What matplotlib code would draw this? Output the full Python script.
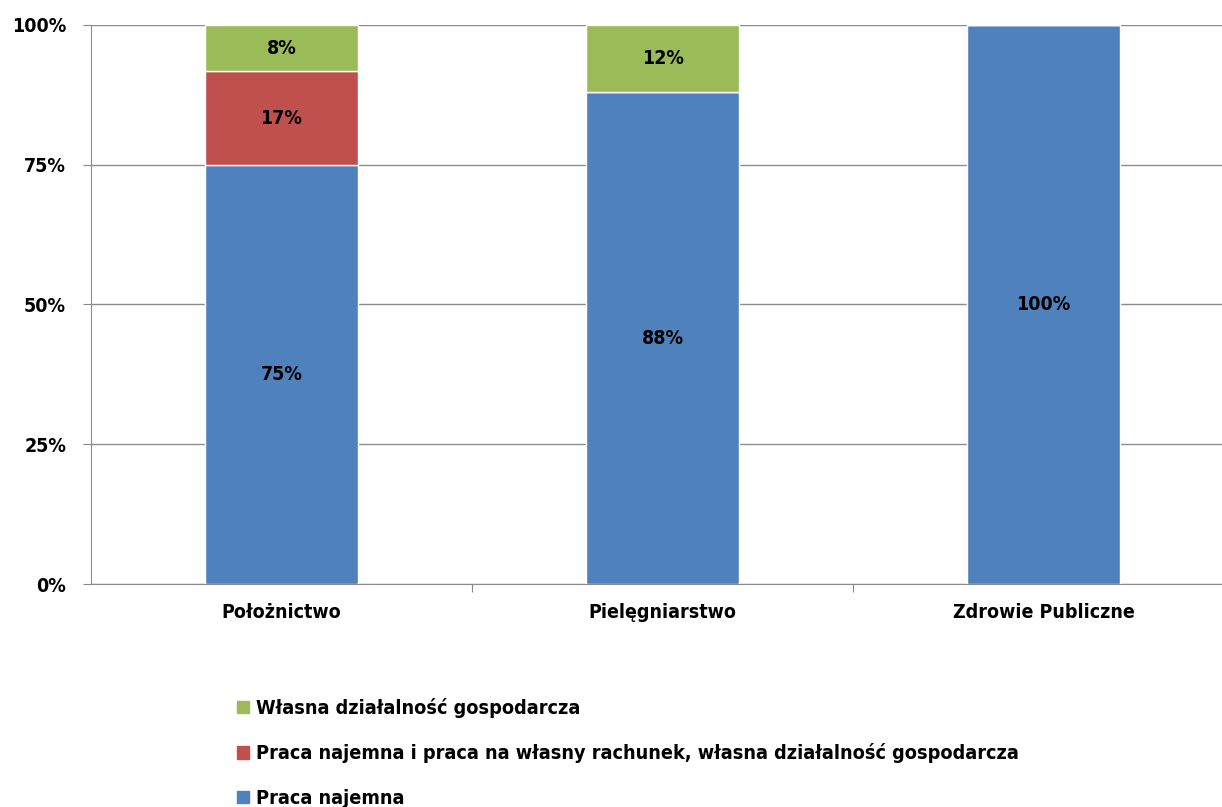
import matplotlib
matplotlib.use('Agg')
import matplotlib.pyplot as plt
from matplotlib.patches import Patch

plt.rcParams['font.family'] = ['DejaVu Sans']
plt.rcParams['font.stretch'] = 'condensed'
plt.rcParams['font.weight'] = 'bold'

# dane
kategorie = ['Położnictwo', 'Pielęgniarstwo', 'Zdrowie Publiczne']
praca_najemna = [75, 88, 100]
praca_mieszana = [16.7, 0, 0]
wlasna_dzialalnosc = [8.3, 12, 0]
etykiety_najemna = ['75%', '88%', '100%']
etykiety_mieszana = ['17%', '', '']
etykiety_wlasna = ['8%', '12%', '']
nazwy_serii = ['Praca najemna',
               'Praca najemna i praca na własny rachunek, własna działalność gospodarcza',
               'Własna działalność gospodarcza']
kolory = ['#4f81bd', '#c0504d', '#9bbb59']

fig = plt.figure(figsize=(12.22, 8.07), dpi=100)
ax = fig.add_axes([91/1222, 223/807, 1143/1222, 559/807])

x = range(len(kategorie))
szer = 0.4
dol2 = praca_najemna
dol3 = [a + b for a, b in zip(praca_najemna, praca_mieszana)]
b1 = ax.bar(x, praca_najemna, szer, color=kolory[0], edgecolor='white', linewidth=1, zorder=3)
b2 = ax.bar(x, praca_mieszana, szer, bottom=dol2, color=kolory[1], edgecolor='white', linewidth=1, zorder=3)
b3 = ax.bar(x, wlasna_dzialalnosc, szer, bottom=dol3, color=kolory[2], edgecolor='white', linewidth=1, zorder=3)

ax.bar_label(b1, labels=etykiety_najemna, label_type='center', fontsize=14, fontweight='bold')
ax.bar_label(b2, labels=etykiety_mieszana, label_type='center', fontsize=14, fontweight='bold')
ax.bar_label(b3, labels=etykiety_wlasna, label_type='center', fontsize=14, fontweight='bold')

ax.set_xlim(-0.5, 2.5)
ax.set_ylim(0, 100)
ax.set_yticks([0, 25, 50, 75, 100])
ax.set_yticklabels(['0%', '25%', '50%', '75%', '100%'], fontsize=14, fontweight='bold')
ax.set_xticks([0.5, 1.5], minor=False)
ax.set_xticklabels([])
ax.set_xticks(list(x), minor=True)
ax.set_xticklabels(kategorie, minor=True, fontsize=14, fontweight='bold')
ax.tick_params(axis='x', which='minor', length=0, pad=14)
ax.tick_params(axis='x', which='major', length=6, color='#888888')
ax.tick_params(axis='y', length=6, color='#888888', pad=12)
ax.grid(axis='y', color='#8c8c8c', linewidth=1, zorder=0)
for s in ['top', 'right']:
    ax.spines[s].set_visible(False)
ax.spines['left'].set_color('#8c8c8c')
ax.spines['bottom'].set_color('#8c8c8c')

uchwyty = [Patch(color=kolory[2]), Patch(color=kolory[1]), Patch(color=kolory[0])]
fig.legend(uchwyty, [nazwy_serii[2], nazwy_serii[1], nazwy_serii[0]],
           loc='upper left', bbox_to_anchor=(219/1222, 1 - 680/807), frameon=False,
           prop={'size': 14.2, 'weight': 'bold'}, handlelength=0.6, handleheight=0.6,
           handletextpad=0.4, labelspacing=1.3)

fig.savefig('out.png', dpi=100)
